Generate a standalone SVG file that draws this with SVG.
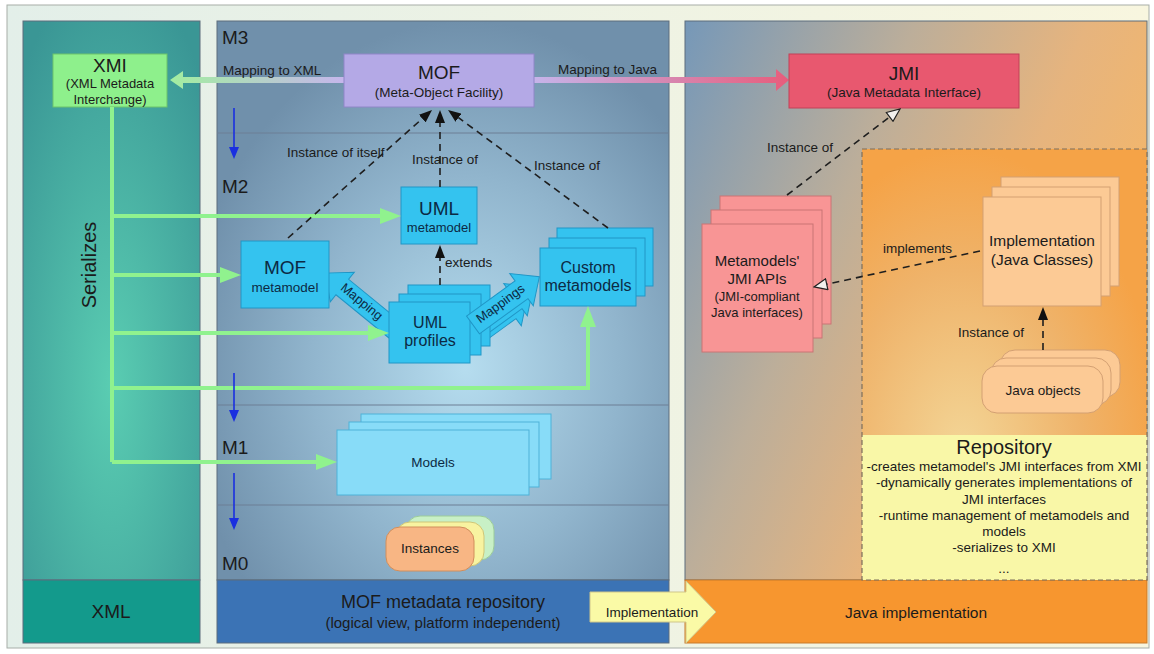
<svg xmlns="http://www.w3.org/2000/svg" width="1154" height="654" viewBox="0 0 1154 654">
<style>
text{font-family:'Liberation Sans',Arial,Helvetica,sans-serif;fill:#1b1b1b}
.c{text-anchor:middle}
.lbl{font-size:13.5px}
.blue{fill:#34c3ef;stroke:#2096c6;stroke-width:1}
.bt{fill:#0c2a44}
.green{fill:none;stroke:#90f28e;stroke-width:4}
.dash{fill:none;stroke:#1e1e1e;stroke-width:1.6;stroke-dasharray:7 5}
.lvl{fill:none;stroke:#1a2fe0;stroke-width:1.6}
.sep{stroke:#6c7f95;stroke-width:1}
.pink{fill:#f89595;stroke:#c97474;stroke-width:1}
.peach{fill:#fcca95;stroke:#d3a073;stroke-width:1}
.panel{stroke:#5d6d7d;stroke-width:1}
</style>
<defs>
  <linearGradient id="page" x1="0" y1="0" x2="1" y2="0">
    <stop offset="0" stop-color="#e3efe9"/>
    <stop offset="1" stop-color="#f8f6df"/>
  </linearGradient>
  <radialGradient id="leftBg" cx="0.5" cy="0.65" r="0.75">
    <stop offset="0" stop-color="#5acdb2"/>
    <stop offset="1" stop-color="#3a9695"/>
  </radialGradient>
  <radialGradient id="midBg" cx="0.55" cy="0.62" r="0.62">
    <stop offset="0" stop-color="#b6ddef"/>
    <stop offset="0.55" stop-color="#91b5cd"/>
    <stop offset="1" stop-color="#7090ab"/>
  </radialGradient>
  <linearGradient id="rightBg" x1="0" y1="0" x2="1" y2="0.5">
    <stop offset="0" stop-color="#7698b8"/>
    <stop offset="0.4" stop-color="#bcae9a"/>
    <stop offset="0.7" stop-color="#e6b47e"/>
    <stop offset="1" stop-color="#f7b765"/>
  </linearGradient>
  <radialGradient id="repoBg" cx="0.35" cy="0.7" r="0.7">
    <stop offset="0" stop-color="#f3d596"/>
    <stop offset="0.6" stop-color="#efb36a"/>
    <stop offset="1" stop-color="#f5a347"/>
  </radialGradient>
  <linearGradient id="toXml" gradientUnits="userSpaceOnUse" x1="170" y1="0" x2="344" y2="0">
    <stop offset="0" stop-color="#a2eea0"/>
    <stop offset="1" stop-color="#c6b6ec"/>
  </linearGradient>
  <linearGradient id="toJava" gradientUnits="userSpaceOnUse" x1="534" y1="0" x2="789" y2="0">
    <stop offset="0" stop-color="#c6b4ea"/>
    <stop offset="1" stop-color="#e75d7c"/>
  </linearGradient>
  <marker id="gh" markerUnits="userSpaceOnUse" markerWidth="22" markerHeight="18" refX="0" refY="9" orient="auto">
    <path d="M0,1 L21,9 L0,17 z" fill="#90f28e"/>
  </marker>
  <marker id="bh" markerUnits="userSpaceOnUse" markerWidth="12" markerHeight="10" refX="0" refY="5" orient="auto">
    <path d="M0,0 L12,5 L0,10 z" fill="#1a2fe0"/>
  </marker>
  <marker id="kh" markerUnits="userSpaceOnUse" markerWidth="13" markerHeight="10" refX="0" refY="5" orient="auto">
    <path d="M0,0 L13,5 L0,10 z" fill="#111"/>
  </marker>
  <marker id="hh" markerUnits="userSpaceOnUse" markerWidth="15" markerHeight="13" refX="1" refY="6.5" orient="auto">
    <path d="M1,1 L14,6.5 L1,12 z" fill="#f2f0ee" stroke="#222" stroke-width="1.2"/>
  </marker>
</defs>

<!-- page -->
<rect x="7" y="5" width="1142" height="643" fill="url(#page)" stroke="#a7aea8" stroke-width="1"/>

<!-- columns -->
<g id="col-xml">
  <rect x="23" y="21" width="177" height="559" fill="url(#leftBg)" class="panel"/>
  <rect x="23" y="580" width="177" height="63" fill="#139a8c" class="panel"/>
  <text x="111" y="618" class="c" font-size="19">XML</text>
  <text transform="translate(96,265) rotate(-90)" class="c" font-size="20">Serializes</text>
</g>
<g id="col-mof">
  <rect x="217" y="21" width="452" height="559" fill="url(#midBg)" class="panel"/>
  <line x1="217" y1="133" x2="669" y2="133" class="sep"/>
  <line x1="217" y1="405" x2="669" y2="405" class="sep"/>
  <line x1="217" y1="505" x2="669" y2="505" class="sep"/>
  <rect x="217" y="580" width="452" height="63" fill="#3b73b5" class="panel"/>
  <text x="443" y="608" class="c" font-size="18">MOF metadata repository</text>
  <text x="443" y="628" class="c" font-size="15">(logical view, platform independent)</text>
  <text x="222" y="44" font-size="19">M3</text>
  <text x="222" y="193" font-size="19">M2</text>
  <text x="222" y="454" font-size="19">M1</text>
  <text x="222" y="570" font-size="19">M0</text>
</g>
<g id="col-java">
  <rect x="685" y="21" width="462" height="559" fill="url(#rightBg)" class="panel"/>
  <rect x="685" y="580" width="462" height="63" fill="#f7962f" stroke="#c87a2a" stroke-width="1"/>
  <text x="916" y="618" class="c" font-size="15.5">Java implementation</text>
</g>

<!-- repository area -->
<g id="repository">
  <rect x="862" y="149" width="285" height="431" fill="url(#repoBg)"/>
  <rect x="862" y="435" width="285" height="145" fill="#f9f7a7"/>
  <rect x="862" y="149" width="285" height="431" fill="none" stroke="#7d6f5c" stroke-width="1.2" stroke-dasharray="5 3"/>
  <text x="1004" y="454" class="c" font-size="20">Repository</text>
  <g class="c" font-size="13.5">
    <text x="1004" y="471" class="c">-creates metamodel's JMI interfaces from XMI</text>
    <text x="1004" y="487" class="c">-dynamically generates implementations of</text>
    <text x="1004" y="504" class="c">JMI interfaces</text>
    <text x="1004" y="520" class="c">-runtime management of metamodels and</text>
    <text x="1004" y="536" class="c">models</text>
    <text x="1004" y="552" class="c">-serializes to XMI</text>
    <text x="1004" y="573" class="c">...</text>
  </g>
</g>

<!-- implementation arrow -->
<g id="impl-arrow">
  <polygon points="590,592 686,592 686,581 716,612 686,643 686,622 590,622" fill="#fafaa6" stroke="#cfc68a" stroke-width="1"/>
  <text x="652" y="617" class="c lbl">Implementation</text>
</g>

<!-- thick mapping arrows between standards -->
<g id="mapping-arrows">
  <polygon points="344,77 183,77 183,71 170,80 183,89 183,83 344,83" fill="url(#toXml)"/>
  <polygon points="534,77 776,77 776,69 789,80 776,91 776,83 534,83" fill="url(#toJava)"/>
  <text x="223" y="75" class="lbl">Mapping to XML</text>
  <text x="558" y="74" class="lbl">Mapping to Java</text>
</g>

<!-- block arrow: UML profiles -> MOF metamodel -->
<g id="mapping">
  <polygon transform="translate(395,330) rotate(-140.8)" points="0,-10 68,-10 68,-19 90,0 68,19 68,10 0,10" class="blue"/>
  <text transform="translate(359,305) rotate(39.2)" class="c bt" font-size="13">Mapping</text>
</g>

<!-- back copies of the Mappings arrows -->
<g id="mappings-back">
  <polygon transform="translate(461,345) rotate(-36)" points="0,-11 60,-11 60,-20 82,0 60,20 60,11 0,11" class="blue"/>
  <polygon transform="translate(467,335) rotate(-36)" points="0,-11 60,-11 60,-20 82,0 60,20 60,11 0,11" class="blue"/>
</g>

<!-- nodes -->
<g id="xmi">
  <rect x="53" y="54" width="114" height="53" fill="#8ef08c" stroke="#6cc46a" stroke-width="1"/>
  <text x="110" y="72" class="c" font-size="19">XMI</text>
  <text x="110" y="88" class="c" font-size="13">(XML Metadata</text>
  <text x="110" y="104" class="c" font-size="13">Interchange)</text>
</g>
<g id="mof">
  <rect x="344" y="54" width="190" height="53" fill="#b4a9e6" stroke="#9086c8" stroke-width="1"/>
  <text x="439" y="79" class="c" font-size="19">MOF</text>
  <text x="439" y="97" class="c" font-size="13.5">(Meta-Object Facility)</text>
</g>
<g id="jmi">
  <rect x="789" y="54" width="230" height="54" fill="#e8586f" stroke="#c24058" stroke-width="1"/>
  <text x="904" y="80" class="c" font-size="19">JMI</text>
  <text x="904" y="97" class="c" font-size="13.5">(Java Metadata Interface)</text>
</g>
<g id="uml-metamodel">
  <rect x="401" y="187" width="76" height="57" class="blue"/>
  <text x="439" y="215" class="c bt" font-size="19">UML</text>
  <text x="439" y="232" class="c bt" font-size="13">metamodel</text>
</g>
<g id="mof-metamodel">
  <rect x="241" y="241" width="88" height="67" class="blue"/>
  <text x="285" y="274" class="c bt" font-size="19">MOF</text>
  <text x="285" y="292" class="c bt" font-size="13.5">metamodel</text>
</g>
<g id="uml-profiles">
  <rect x="408" y="285" width="82" height="61" class="blue"/>
  <rect x="399" y="294" width="82" height="61" class="blue"/>
  <rect x="389" y="302" width="81" height="61" class="blue"/>
  <text x="430" y="328" class="c bt" font-size="16">UML</text>
  <text x="430" y="346" class="c bt" font-size="16">profiles</text>
</g>
<g id="mappings">
  <polygon transform="translate(473,325) rotate(-36)" points="0,-11 60,-11 60,-20 82,0 60,20 60,11 0,11" class="blue"/>
  <text transform="translate(503,307) rotate(-36)" class="c bt" font-size="13">Mappings</text>
</g>
<g id="custom-metamodels">
  <rect x="557" y="228" width="96" height="58" class="blue"/>
  <rect x="549" y="238" width="96" height="58" class="blue"/>
  <rect x="540" y="248" width="96" height="58" class="blue"/>
  <text x="588" y="273" class="c bt" font-size="16">Custom</text>
  <text x="588" y="291" class="c bt" font-size="16">metamodels</text>
</g>
<g id="models">
  <rect x="361" y="414" width="190" height="65" fill="#88dcf8" stroke="#4eb2d8" stroke-width="1"/>
  <rect x="349" y="422" width="190" height="65" fill="#88dcf8" stroke="#4eb2d8" stroke-width="1"/>
  <rect x="337" y="430" width="192" height="65" fill="#88dcf8" stroke="#4eb2d8" stroke-width="1"/>
  <text x="433" y="467" class="c bt lbl">Models</text>
</g>
<g id="instances">
  <rect x="406" y="516" width="88" height="44" rx="14" fill="#c8f0c6" stroke="#9ccc9a" stroke-width="1"/>
  <rect x="396" y="522" width="88" height="44" rx="14" fill="#f8f3a0" stroke="#cfc678" stroke-width="1"/>
  <rect x="386" y="527" width="88" height="44" rx="14" fill="#f8b684" stroke="#d18e5c" stroke-width="1"/>
  <text x="430" y="553" class="c lbl">Instances</text>
</g>
<g id="jmi-apis">
  <rect x="720" y="196" width="111" height="128" class="pink"/>
  <rect x="711" y="210" width="111" height="128" class="pink"/>
  <rect x="702" y="224" width="111" height="128" class="pink"/>
  <text x="757" y="266" class="c" font-size="15">Metamodels'</text>
  <text x="757" y="284" class="c" font-size="15">JMI APIs</text>
  <text x="757" y="301" class="c" font-size="13">(JMI-compliant</text>
  <text x="757" y="317" class="c" font-size="13">Java interfaces)</text>
</g>
<g id="implementation">
  <rect x="1001" y="177" width="118" height="109" class="peach"/>
  <rect x="992" y="187" width="118" height="109" class="peach"/>
  <rect x="983" y="197" width="118" height="109" class="peach"/>
  <text x="1042" y="246" class="c" font-size="15.5">Implementation</text>
  <text x="1042" y="265" class="c" font-size="15.5">(Java Classes)</text>
</g>
<g id="java-objects">
  <rect x="1000" y="350" width="120" height="47" rx="15" class="peach"/>
  <rect x="991" y="358" width="120" height="47" rx="15" class="peach"/>
  <rect x="982" y="366" width="121" height="47" rx="15" class="peach"/>
  <text x="1043" y="395" class="c lbl">Java objects</text>
</g>

<!-- connectors -->
<g id="connectors">
  <!-- serialization lines from XMI -->
  <path d="M112,107 V462" class="green"/>
  <path d="M112,216 H380" class="green" marker-end="url(#gh)"/>
  <path d="M112,275 H220" class="green" marker-end="url(#gh)"/>
  <path d="M112,333 H368" class="green" marker-end="url(#gh)"/>
  <path d="M112,388 H588 V327" class="green" marker-end="url(#gh)"/>
  <path d="M112,462 H316" class="green" marker-end="url(#gh)"/>

  <!-- level arrows -->
  <path d="M234,108 V147" class="lvl" marker-end="url(#bh)"/>
  <path d="M234,373 V410" class="lvl" marker-end="url(#bh)"/>
  <path d="M234,473 V518" class="lvl" marker-end="url(#bh)"/>

  <!-- instance-of relations -->
  <text x="287" y="157" class="lbl">Instance of itself</text>
  <text x="412" y="164" class="lbl">Instance of</text>
  <text x="534" y="170" class="lbl">Instance of</text>
  <text x="445" y="267" class="lbl">extends</text>
  <text x="767" y="152" class="lbl">Instance of</text>
  <text x="883" y="253" class="lbl">implements</text>
  <text x="958" y="337" class="lbl">Instance of</text>

  <path d="M288,238 L422.3,118.6" class="dash" marker-end="url(#kh)"/>
  <path d="M440,187 L440,123" class="dash" marker-end="url(#kh)"/>
  <path d="M608,228 L458.5,117.7" class="dash" marker-end="url(#kh)"/>
  <path d="M440,285 L440,258" class="dash" marker-end="url(#kh)"/>
  <path d="M787,195 L889.7,116.9" class="dash" marker-end="url(#hh)"/>
  <path d="M980,251 L826.7,284.2" class="dash" marker-end="url(#hh)"/>
  <path d="M1043,350 L1043,320" class="dash" marker-end="url(#kh)"/>
</g>
</svg>
